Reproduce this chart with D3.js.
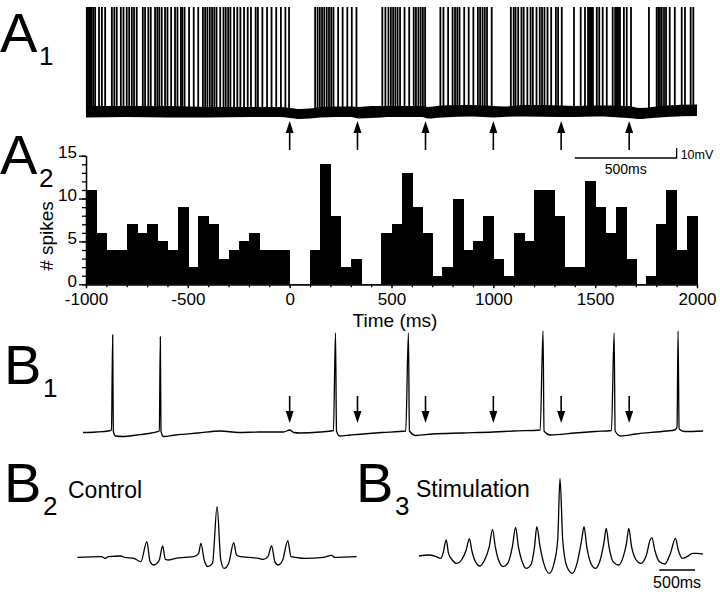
<!DOCTYPE html>
<html>
<head>
<meta charset="utf-8">
<script src="https://cdn.jsdelivr.net/npm/d3@7"></script>
<style>
  body { margin: 0; background: #fff; }
  svg { display: block; font-family: 'Liberation Sans', Arial, sans-serif; }
</style>
</head>
<body>
<svg id="fig" width="720" height="592"></svg>
<script>
// values

// stimulus times (ms), the arrows in A1 and B1
var stimTimes = [0, 333, 667, 1000, 1333, 1667];

// A1: spike times (ms) of the overlaid sweeps
var a1Spikes = [-996, -990, -984, -978, -972, -964, -955, -936, -922, -906, -873, -861, -849,
  -829, -816, -800, -788, -775, -764, -751, -721, -710, -694, -682, -661, -650, -640, -628,
  -612, -600, -582, -563, -551, -534, -527, -516, -494, -471, -449, -426, -415, -404, -392,
  -381, -370, -359, -341, -325, -314, -302, -291, -273, -257, -242, -224, -206, -190, -167,
  -156, -134, -111, -89, -66, -43, -21, -3,
  125, 137, 148, 159, 170, 182, 193, 204, 215, 238, 260, 283, 305, 328,
  455, 470, 485, 497, 508, 519, 530, 542, 564, 587, 609, 620, 632, 643, 654, 665,
  740, 755, 778, 800, 812, 823, 834, 857, 879, 902, 924, 935, 947, 958, 969, 992,
  1086, 1100, 1109, 1122, 1138, 1149, 1167, 1183, 1194, 1212, 1228, 1239, 1251, 1266, 1284,
  1307, 1318, 1336, 1396, 1429, 1450, 1465, 1470, 1476, 1482, 1489, 1508, 1520, 1537, 1557,
  1586, 1598, 1604, 1610, 1616, 1622, 1641, 1655, 1676, 1764, 1802, 1810, 1818, 1827, 1838,
  1848, 1866, 1891, 1925, 1941, 1969, 1982];
var a1SpikeFoot = -58;
var a1SpikePeak = 46;

// A1: the thick band of overlaid baselines [t ms, low mV, high mV]
var a1Band = [[-1000, -64.5, -53], [-800, -64, -53], [-600, -64.5, -53], [-400, -64.5, -54],
  [-200, -64, -54], [-50, -64, -54], [0, -65, -55], [50, -66, -56], [100, -65.5, -55.5],
  [150, -64.5, -54], [300, -64, -53.5], [340, -65.5, -54], [400, -65, -53], [500, -64, -53],
  [650, -64, -53], [680, -65.5, -54], [750, -64.5, -52.5], [900, -63.5, -52], [1000, -64.5, -53],
  [1050, -64, -53.5], [1150, -63.5, -52], [1330, -64, -52.5], [1400, -64, -53],
  [1500, -63.5, -52.5], [1660, -65, -53], [1720, -66, -55], [1780, -65, -54], [1850, -64, -52.5],
  [2000, -63, -51.5]];

// A2: spike counts in 50 ms bins from -1000 to 2000 ms
var histBinStart = -1000;
var histBinWidth = 50;
var histCounts = [11, 6, 4, 4, 7, 6, 7, 5, 4, 9, 2, 8, 7, 3, 4, 5, 6, 4, 4, 4,
  0, 0, 4, 14, 8, 2, 3, 0, 0, 6, 7, 13, 9, 6, 1, 2, 10, 4, 5, 8,
  3, 1, 6, 5, 11, 11, 8, 2, 2, 12, 9, 6, 9, 3, 0, 1, 7, 11, 4, 8];
var histXTicks = [-1000, -500, 0, 500, 1000, 1500, 2000];
var histYTicks = [0, 5, 10, 15];

// B1: single sweep [t ms, mV]
var b1Trace = [[-1015, -59.5], [-950, -59], [-890, -58], [-875, -57], [-869, 38], [-866, -58],
  [-855, -63], [-820, -63.5], [-750, -62], [-680, -60], [-640, -58], [-635, 36], [-632, -58],
  [-620, -63.5], [-560, -62], [-450, -60], [-340, -58], [-250, -59.5], [-150, -59],
  [-30, -59], [0, -57], [20, -59.5], [50, -60], [150, -59], [215, -57.5], [225, 40],
  [230, -58], [245, -63], [300, -62], [450, -59.5], [570, -58], [583, 40], [588, -58],
  [620, -62.5], [700, -61], [850, -60], [1000, -59], [1100, -58], [1230, -57], [1244, 42],
  [1249, -58], [1280, -62], [1400, -60], [1500, -58.5], [1580, -57.5], [1593, 40],
  [1598, -58], [1625, -63], [1700, -61], [1850, -58], [1890, -57], [1902, -54], [1907, 42],
  [1912, -56], [1940, -58.5], [2030, -58]];

// B2: control trace [t ms, mV]
var b2Trace = [[0, -60.2], [336, -59.8], [388, -60.7], [433, -59.8], [608, -59.5], [660, -60.2],
  [789, -60.7], [886, -62.3], [970, -52.3], [1015, -62.3], [1067, -64], [1144, -61.5],
  [1190, -54.5], [1229, -61.2], [1274, -61.5], [1319, -61.2], [1371, -60.7], [1500, -60.2],
  [1629, -59.8], [1694, -58.2], [1726, -53.2], [1772, -61.5], [1823, -64.8], [1888, -63.2],
  [1952, -34.8], [2004, -61.5], [2049, -65.7], [2114, -63.2], [2185, -52.8], [2224, -59],
  [2276, -59.8], [2405, -60.2], [2534, -60.7], [2599, -61.2], [2663, -59.8], [2715, -54.5],
  [2760, -62.3], [2806, -64], [2870, -61.5], [2941, -51.8], [2986, -59.8], [3051, -60.2],
  [3180, -60.7], [3439, -60.2], [3555, -59.2], [3600, -60.2], [3904, -59.8]];

// B3: trace during stimulation [t ms, mV]
var b3Trace = [[0, -59.5], [142, -59], [239, -59.8], [304, -60.7], [336, -58.2], [381, -51.5],
  [413, -58.2], [465, -61.5], [530, -63.2], [595, -61.5], [660, -56.5], [705, -50.8],
  [737, -56.5], [789, -62.3], [853, -64.5], [918, -61.5], [983, -54.8], [1028, -46.2],
  [1067, -54.8], [1112, -61.5], [1177, -64.8], [1241, -63.2], [1306, -54.8], [1351, -45.2],
  [1390, -54.8], [1435, -61.5], [1500, -65.7], [1564, -64], [1616, -54.8], [1648, -44.8],
  [1693, -54.8], [1745, -63.2], [1823, -68.2], [1888, -63.2], [1940, -51.5], [1972, -20.7],
  [2010, -51.5], [2068, -64.8], [2146, -68.2], [2210, -63.2], [2275, -51.5], [2308, -44.8],
  [2346, -54.8], [2405, -63.2], [2469, -65.7], [2534, -61.5], [2585, -53.2], [2618, -45.7],
  [2657, -54.8], [2714, -62.3], [2793, -64], [2857, -59.8], [2902, -53.2], [2934, -45.7],
  [2973, -54.8], [3038, -61.5], [3102, -63.2], [3181, -59.0], [3232, -51.5], [3258, -50.3],
  [3297, -56.5], [3361, -62.3], [3439, -63.5], [3516, -58.2], [3587, -50.7], [3626, -56.5],
  [3684, -60.7], [3749, -59.8], [3826, -58.2], [3891, -58.2], [3969, -58.5]];

var ink = '#000';
var svg = d3.select('#fig');

svg.append('rect').attr('width', 720).attr('height', 592).attr('fill', '#fff');

// shared time axis for A1, A2 and B1
var xA = d3.scaleLinear().domain([-1000, 2000]).range([86, 697]);

// ---- A1 ----
var yA1 = d3.scaleLinear().domain([-65, 47]).range([118, 6]);

svg.append('path')
  .datum(a1Band)
  .attr('fill', ink)
  .attr('d', d3.area()
    .x(function(d) { return xA(d[0]); })
    .y0(function(d) { return yA1(d[1]); })
    .y1(function(d) { return yA1(d[2]); })
    .curve(d3.curveMonotoneX));

svg.append('g')
  .selectAll('line')
  .data(a1Spikes)
  .enter().append('line')
  .attr('x1', function(d) { return xA(d); })
  .attr('x2', function(d) { return xA(d); })
  .attr('y1', yA1(a1SpikeFoot))
  .attr('y2', yA1(a1SpikePeak))
  .attr('stroke', ink)
  .attr('stroke-width', 1.8);

// arrows at each stimulus, dir 1 points up, -1 points down
var drawArrow = function(x, tip, tail, dir) {
  var g = svg.append('g');
  var head = 12 * dir;
  g.append('line')
    .attr('x1', x).attr('x2', x)
    .attr('y1', tail).attr('y2', tip + head * 0.5)
    .attr('stroke', ink).attr('stroke-width', 1.6);
  g.append('path')
    .attr('d', 'M' + x + ',' + tip + 'L' + (x - 4) + ',' + (tip + head) +
      'L' + (x + 4) + ',' + (tip + head) + 'Z')
    .attr('fill', ink);
};
stimTimes.forEach(function(t) { drawArrow(xA(t), 121, 150, 1); });

// scale bar, 500 ms by 10 mV
var barY = 158;
var barX0 = xA(1400);
var barX1 = xA(1900);
svg.append('path')
  .attr('d', 'M' + barX0 + ',' + barY + 'H' + barX1 + 'V' + (barY - (yA1(-65) - yA1(-55))))
  .attr('fill', 'none').attr('stroke', ink).attr('stroke-width', 1.3);
svg.append('text').attr('x', barX1 + 4).attr('y', barY + 1)
  .attr('font-size', 12.5).text('10mV');
svg.append('text').attr('x', (barX0 + barX1) / 2).attr('y', barY + 16)
  .attr('text-anchor', 'middle').attr('font-size', 14).text('500ms');

// ---- A2 histogram ----
var yH = d3.scaleLinear().domain([0, 15]).range([284.3, 155.7]);
var binW = xA(histBinWidth) - xA(0);

svg.append('g')
  .attr('shape-rendering', 'crispEdges')
  .selectAll('rect')
  .data(histCounts)
  .enter().append('rect')
  .attr('x', function(d, i) { return xA(histBinStart + i * histBinWidth); })
  .attr('width', binW + 0.8)
  .attr('y', function(d) { return yH(d); })
  .attr('height', function(d) { return yH(0) - yH(d); })
  .attr('fill', ink);

var styleAxis = function(g, size) {
  g.attr('font-family', null).attr('font-size', size);
  g.selectAll('line, path').attr('stroke', ink).attr('stroke-width', 1.3);
  g.selectAll('text').attr('fill', ink);
};

// minor ticks
svg.append('g')
  .attr('transform', 'translate(0,' + yH(0) + ')')
  .call(d3.axisBottom(xA).tickValues(d3.range(-1000, 2001, 100))
    .tickSize(3).tickSizeOuter(0).tickFormat(''))
  .call(styleAxis, 17);
svg.append('g')
  .attr('transform', 'translate(' + xA(-1000) + ',0)')
  .call(d3.axisLeft(yH).tickValues(d3.range(0, 16, 1))
    .tickSize(4).tickSizeOuter(0).tickFormat(''))
  .call(styleAxis, 17);

// major ticks with labels
svg.append('g')
  .attr('transform', 'translate(0,' + yH(0) + ')')
  .call(d3.axisBottom(xA).tickValues(histXTicks)
    .tickSize(4).tickSizeOuter(0).tickPadding(5)
    .tickFormat(function(d) { return String(d); }))
  .call(styleAxis, 17);
svg.append('g')
  .attr('transform', 'translate(' + xA(-1000) + ',0)')
  .call(d3.axisLeft(yH).tickValues(histYTicks)
    .tickSize(7).tickSizeOuter(0).tickPadding(2)
    .tickFormat(function(d) { return String(d); }))
  .call(styleAxis, 17)
  .selectAll('text').attr('dy', '0.12em');

svg.append('text')
  .attr('transform', 'translate(53,236) rotate(-90)')
  .attr('text-anchor', 'middle').attr('font-size', 19)
  .text('# spikes');
svg.append('text')
  .attr('x', 395).attr('y', 327)
  .attr('text-anchor', 'middle').attr('font-size', 19)
  .text('Time (ms)');

// ---- B1 ----
var yB1 = d3.scaleLinear().domain([-60, 40]).range([433, 333]);
svg.append('path')
  .datum(b1Trace)
  .attr('fill', 'none').attr('stroke', ink).attr('stroke-width', 1.3)
  .attr('d', d3.line()
    .x(function(d) { return xA(d[0]); })
    .y(function(d) { return yB1(d[1]); })
    .curve(d3.curveMonotoneX));
stimTimes.forEach(function(t) { drawArrow(xA(t), 423, 396, -1); });

// ---- B2, B3 ----
var yB = d3.scaleLinear().domain([-60, -20]).range([557, 477]);
var xB2 = d3.scaleLinear().domain([0, 1000]).range([77.5, 149]);
var xB3 = d3.scaleLinear().domain([0, 1000]).range([419, 490.5]);

var traceLine = function(xs) {
  return d3.line()
    .x(function(d) { return xs(d[0]); })
    .y(function(d) { return yB(d[1]); })
    .curve(d3.curveMonotoneX);
};
svg.append('path').datum(b2Trace)
  .attr('fill', 'none').attr('stroke', ink).attr('stroke-width', 1.3)
  .attr('d', traceLine(xB2));
svg.append('path').datum(b3Trace)
  .attr('fill', 'none').attr('stroke', ink).attr('stroke-width', 1.3)
  .attr('d', traceLine(xB3));

// 500 ms bar under B3
svg.append('line')
  .attr('x1', xB3(3360)).attr('x2', xB3(3860))
  .attr('y1', 570).attr('y2', 570)
  .attr('stroke', ink).attr('stroke-width', 1.5);
svg.append('text').attr('x', xB3(3610)).attr('y', 588)
  .attr('text-anchor', 'middle').attr('font-size', 16).text('500ms');

svg.append('text').attr('x', 68).attr('y', 498).attr('font-size', 23).text('Control');
svg.append('text').attr('x', 416).attr('y', 497).attr('font-size', 23).text('Stimulation');

// ---- panel labels ----
var panelLabels = [['A', '1', 0, 52], ['A', '2', 0, 174], ['B', '1', 4, 384], ['B', '2', 4, 502], ['B', '3', 356, 502]];
panelLabels.forEach(function(p) {
  svg.append('text').attr('x', p[2]).attr('y', p[3])
    .attr('font-size', 56).attr('fill', ink).text(p[0]);
  svg.append('text').attr('x', p[2] + 39).attr('y', p[3] + 13)
    .attr('font-size', 26).attr('fill', ink).text(p[1]);
});
</script>
</body>
</html>
